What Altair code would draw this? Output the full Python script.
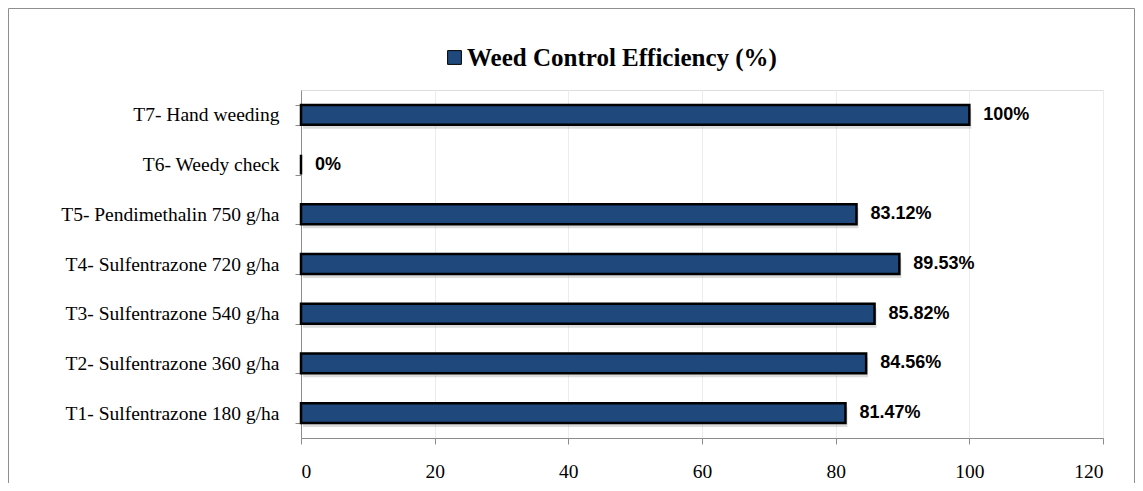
import altair as alt
import pandas as pd

categories = [
    "T1- Sulfentrazone 180 g/ha",
    "T2- Sulfentrazone 360 g/ha",
    "T3- Sulfentrazone 540 g/ha",
    "T4- Sulfentrazone 720 g/ha",
    "T5- Pendimethalin 750 g/ha",
    "T6- Weedy check",
    "T7- Hand weeding",
]
values = [81.47, 84.56, 85.82, 89.53, 83.12, 0, 100]
value_labels = ["81.47%", "84.56%", "85.82%", "89.53%", "83.12%", "0%", "100%"]
series_name = "Weed Control Efficiency (%)"
x_ticks = [0, 20, 40, 60, 80, 100, 120]

df = pd.DataFrame({"cat": categories, "val": values, "lab": value_labels, "series": series_name})
order = list(reversed(categories))

W, H = 802, 348

y_enc = alt.Y("cat:N", sort=order, title=None,
              scale=alt.Scale(paddingInner=0.6, paddingOuter=0.3),
              axis=alt.Axis(tickBand="extent", domainColor="#8c8c8c", tickColor="#8c8c8c",
                            tickSize=6, labelPadding=16, labelFont="Liberation Serif",
                            labelFontSize=19.5, labelColor="#000", labelLimit=300, grid=False))
x_enc = alt.X("val:Q", title=None,
              scale=alt.Scale(domain=[0, 120], nice=False),
              axis=alt.Axis(values=x_ticks, domainColor="#8c8c8c", tickColor="#8c8c8c",
                            tickSize=6, labelPadding=18, labelFont="Liberation Serif",
                            labelFontSize=19.5, labelColor="#000", grid=True,
                            gridColor="#ececec", gridWidth=1))

frame = alt.Chart(pd.DataFrame({"a": [0]})).mark_rect(
    fill="white", fillOpacity=0, stroke="#8f8f8f", strokeWidth=1
).encode(x=alt.value(-292.5), x2=alt.value(833.5), y=alt.value(-81.5), y2=alt.value(460))

shadow = alt.Chart(df).mark_bar(color="#9a9a9a", opacity=0.35, xOffset=2, yOffset=4).encode(
    y=alt.Y("cat:N", sort=order), x=alt.X("val:Q")
)

bars = alt.Chart(df).mark_bar(stroke="black", strokeWidth=2.5).encode(
    y=y_enc, x=x_enc,
    color=alt.Color("series:N", scale=alt.Scale(range=["#1F497D"]),
                    legend=alt.Legend(title=None, orient="none", legendX=141, legendY=-45,
                                      symbolType="square", symbolSize=190,
                                      symbolStrokeColor="black", symbolStrokeWidth=1,
                                      labelFont="Liberation Serif", labelFontSize=25,
                                      labelFontWeight="bold", labelColor="#000",
                                      labelLimit=600, symbolOffset=0, labelOffset=0))
)

text = alt.Chart(df).mark_text(align="left", dx=14, font="Liberation Sans", fontSize=18,
                               fontWeight="bold", color="#000").encode(
    y=alt.Y("cat:N", sort=order), x=alt.X("val:Q"), text="lab:N"
)

chart = alt.layer(frame, shadow, bars, text).properties(
    width=W, height=H,
    autosize=alt.AutoSizeParams(type="none"),
    padding={"left": 293, "top": 82, "right": 32, "bottom": 45},
).configure_view(stroke=None).configure(background="white")

chart.save("out.html", embed_options={"renderer": "svg", "actions": False})
